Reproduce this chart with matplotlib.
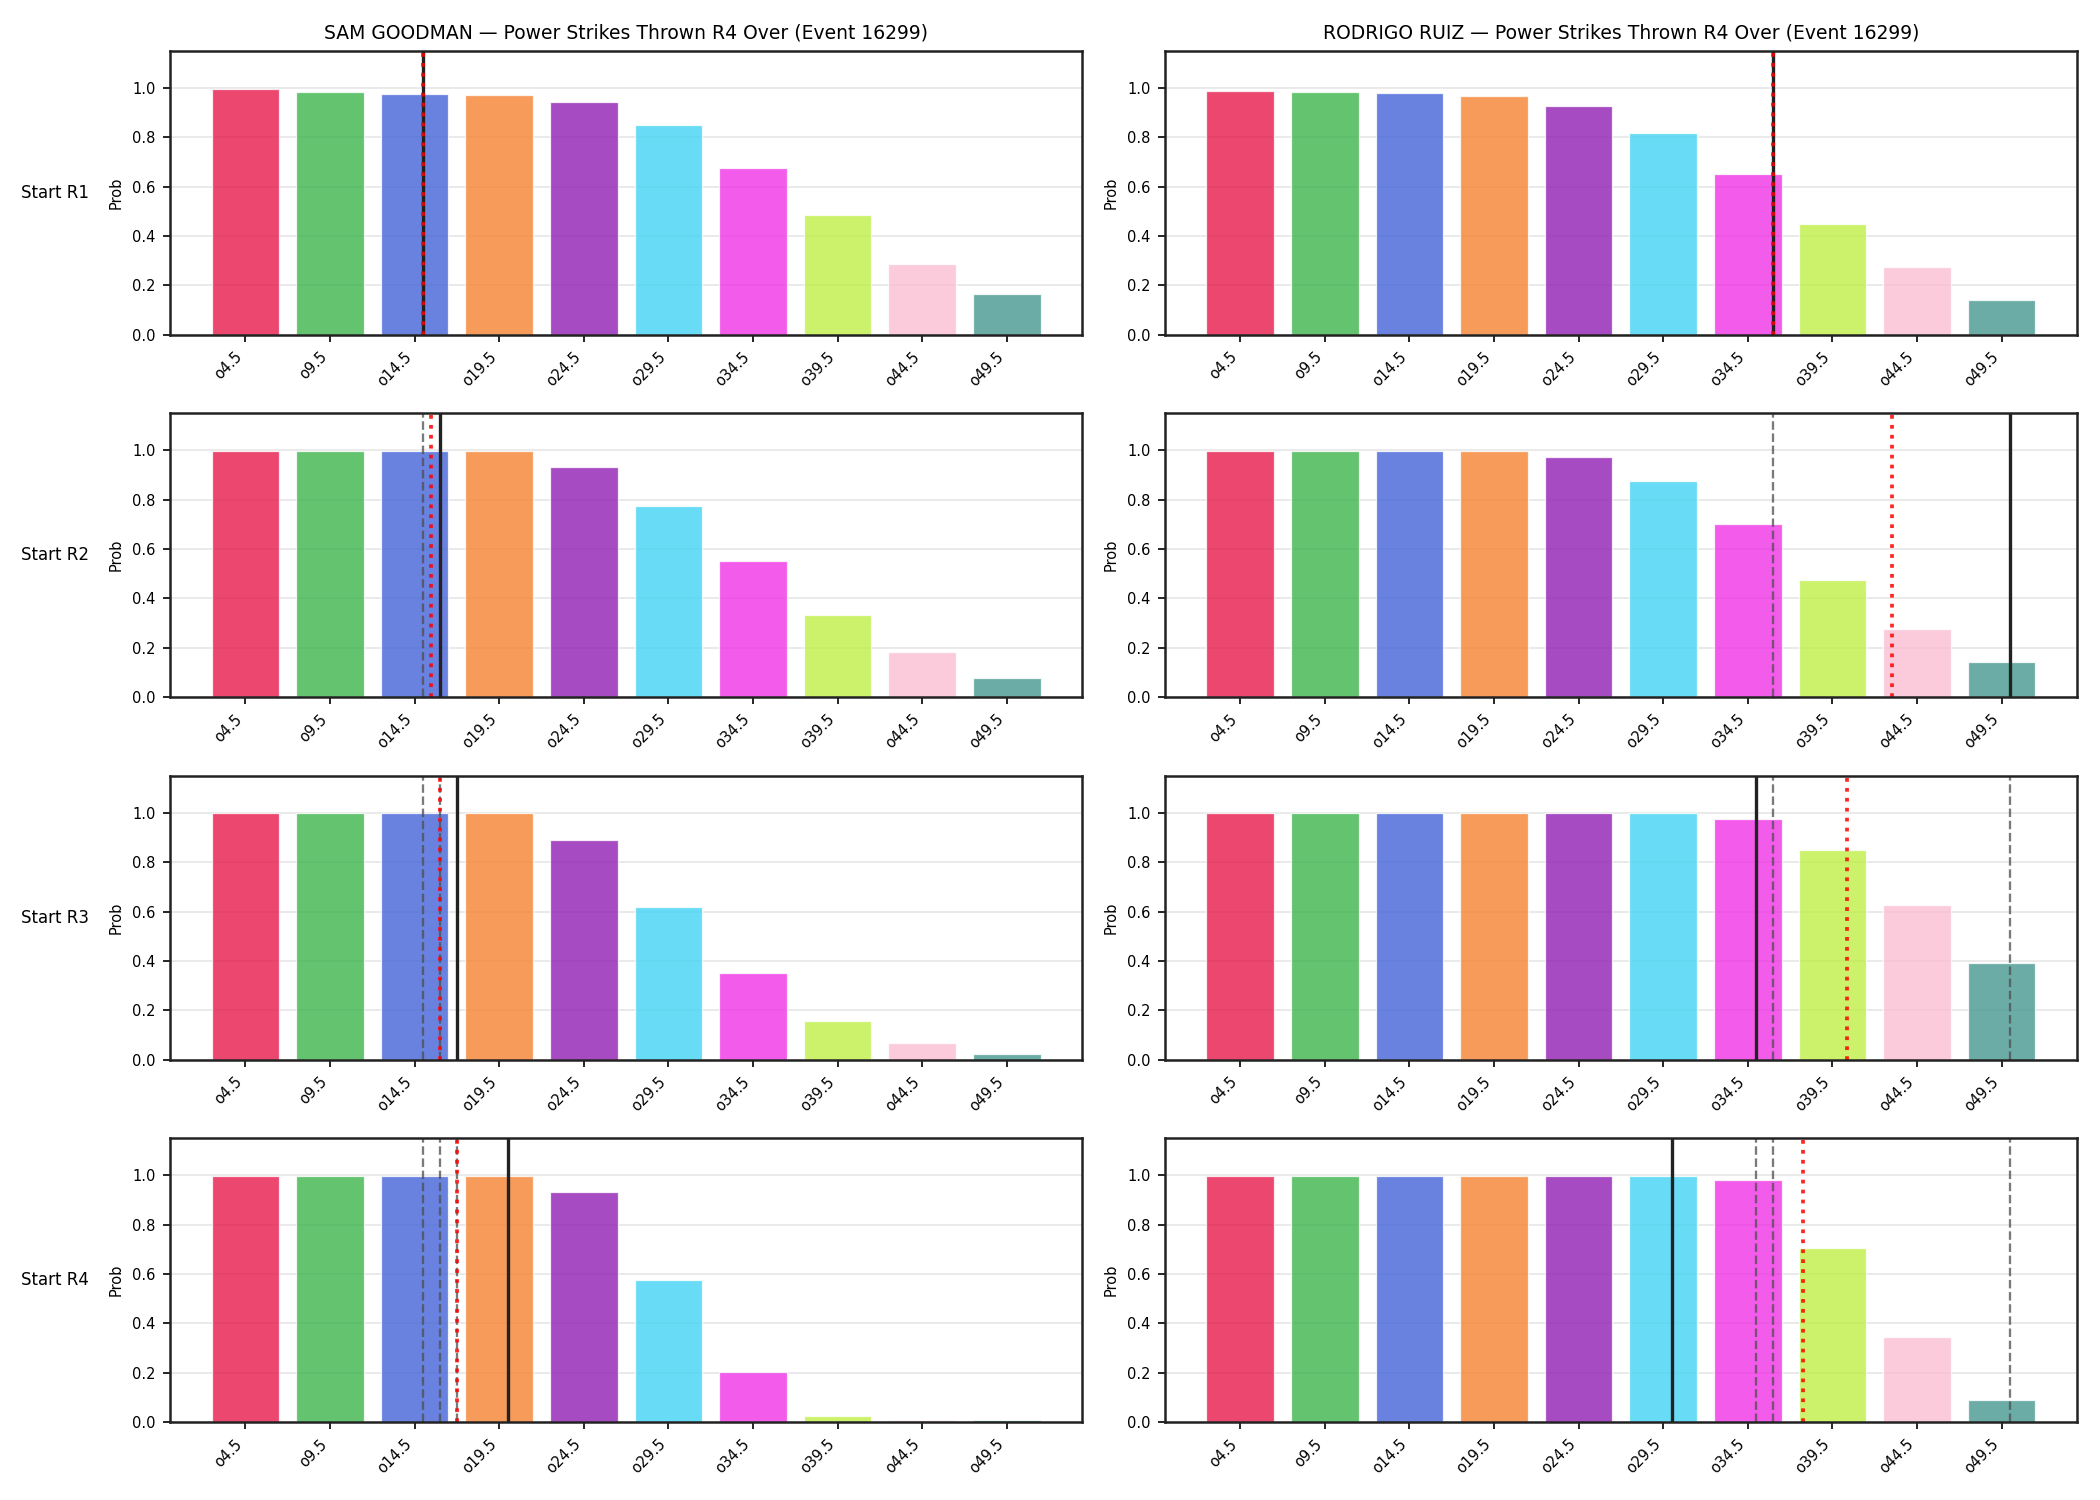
import matplotlib
matplotlib.use("Agg")
import matplotlib.pyplot as plt
import numpy as np

# over lines and bar colours
lines = [4.5, 9.5, 14.5, 19.5, 24.5, 29.5, 34.5, 39.5, 44.5, 49.5]
labels = ["o%g" % v for v in lines]
colors = ['#e6194b', '#3cb44b', '#4363d8', '#f58231', '#911eb4',
          '#42d4f4', '#f032e6', '#bfef45', '#fabed4', '#469990']

event = 16299
fighters = ["SAM GOODMAN", "RODRIGO RUIZ"]

# actual power strikes thrown per round
sam_rounds = [15, 16, 17, 20]
ruiz_rounds = [36, 50, 35, 30]

# P(over) for each start round
sam_probs = [
    [0.997, 0.985, 0.977, 0.972, 0.945, 0.848, 0.675, 0.485, 0.288, 0.163],
    [0.998, 0.998, 0.998, 0.998, 0.933, 0.775, 0.552, 0.333, 0.184, 0.078],
    [0.998, 0.998, 0.998, 0.998, 0.889, 0.619, 0.349, 0.156, 0.067, 0.023],
    [0.998, 0.998, 0.998, 0.998, 0.933, 0.577, 0.201, 0.023, 0.007, 0.007],
]
ruiz_probs = [
    [0.989, 0.985, 0.981, 0.969, 0.925, 0.819, 0.651, 0.449, 0.276, 0.142],
    [0.998, 0.998, 0.998, 0.998, 0.973, 0.876, 0.702, 0.475, 0.277, 0.143],
    [0.998, 0.998, 0.998, 0.998, 0.998, 0.998, 0.977, 0.848, 0.627, 0.393],
    [0.998, 0.998, 0.998, 0.998, 0.998, 0.998, 0.981, 0.706, 0.346, 0.088],
]

rounds_all = [sam_rounds, ruiz_rounds]
probs_all = [sam_probs, ruiz_probs]

idx = np.arange(len(lines))


def to_pos(v):
    # map a strike count onto the category axis (lines are 5 apart)
    return (v - lines[0]) / (lines[1] - lines[0])


fig, axes = plt.subplots(4, 2, figsize=(14, 10), dpi=150)
fig.subplots_adjust(left=0.081, right=0.989, top=0.966, bottom=0.052, wspace=0.091, hspace=0.278)

for c in range(2):
    for r in range(4):
        ax = axes[r, c]
        ax.bar(idx, probs_all[c][r], color=colors, alpha=0.8, width=0.8, edgecolor='white', linewidth=0.6)
        rnds = rounds_all[c]
        for prev in rnds[:r]:
            ax.axvline(to_pos(prev), color='0.3', linestyle='--', linewidth=1.1, alpha=0.75)
        ax.axvline(to_pos(rnds[r]), color='#222222', linestyle='-', linewidth=1.6)
        ax.axvline(to_pos(np.mean(rnds[:r + 1])), color='red', linestyle=':', linewidth=1.8, alpha=0.85)
        ax.set_ylim(0, 1.15)
        ax.set_xticks(idx)
        ax.set_xticklabels(labels, rotation=45, ha='right', fontsize=7)
        ax.tick_params(axis='y', labelsize=7)
        ax.set_ylabel('Prob', fontsize=7)
        ax.grid(axis='y', color='0.9', linewidth=0.8)
        ax.set_axisbelow(True)
        for s in ax.spines.values():
            s.set_linewidth(1.2)
            s.set_color('#222222')
        if r == 0:
            ax.set_title("%s — Power Strikes Thrown R4 Over (Event %d)" % (fighters[c], event), fontsize=9)
        if c == 0:
            ax.text(-0.089, 0.5, "Start R%d" % (r + 1), transform=ax.transAxes,
                    ha='right', va='center', fontsize=8)

plt.savefig('out.png', dpi=150)
